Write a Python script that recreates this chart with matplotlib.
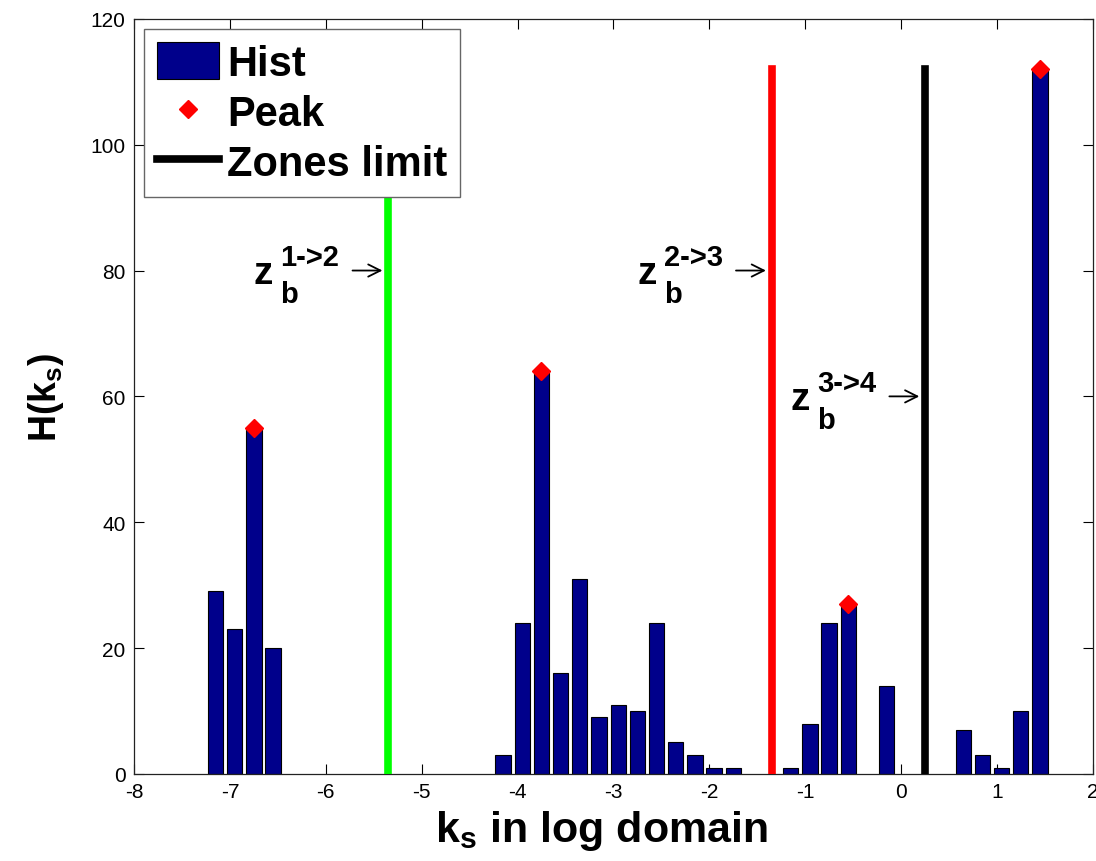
import numpy as np
import matplotlib
matplotlib.use("Agg")
import matplotlib.pyplot as plt
from matplotlib.lines import Line2D
from matplotlib.patches import Patch

plt.rcParams['font.family'] = ['Liberation Sans', 'DejaVu Sans']
plt.rcParams['mathtext.fontset'] = 'custom'
plt.rcParams['mathtext.rm'] = 'Liberation Sans:bold'
plt.rcParams['mathtext.it'] = 'Liberation Sans:bold'
plt.rcParams['mathtext.bf'] = 'Liberation Sans:bold'
plt.rcParams['axes.unicode_minus'] = False

# Histogram data (bin centres in log domain, counts)
bin_centers = [-7.15, -6.95, -6.75, -6.55,
               -4.15, -3.95, -3.75, -3.55, -3.35, -3.15, -2.95, -2.75,
               -2.55, -2.35, -2.15, -1.95, -1.75,
               -1.15, -0.95, -0.75, -0.55, -0.15,
               0.65, 0.85, 1.05, 1.25, 1.45]
counts = [29, 23, 55, 20,
          3, 24, 64, 16, 31, 9, 11, 10,
          24, 5, 3, 1, 1,
          1, 8, 24, 27, 14,
          7, 3, 1, 10, 112]
bin_width = 0.2

# Peaks
peak_x = [-6.75, -3.75, -0.55, 1.45]
peak_y = [55, 64, 27, 112]

# Zone limits
zone_x = [-5.35, -1.35, 0.25]
zone_colors = ['#00ff00', '#ff0000', '#000000']
zone_top = 112
zone_names = ['1->2', '2->3', '3->4']
zone_arrow_y = [80, 80, 60]

fig = plt.figure(figsize=(10.96, 8.62), dpi=100)
ax = fig.add_axes([0.1223, 0.101, 0.8747, 0.876])

ax.bar(bin_centers, counts, width=bin_width * 0.8, color='#00008b',
       edgecolor='black', linewidth=0.8, zorder=2)

for zx, zc in zip(zone_x, zone_colors):
    ax.plot([zx, zx], [0, zone_top], color=zc, linewidth=5.5, zorder=3)

ax.plot(peak_x, peak_y, 'D', color='red', markersize=9, zorder=4)

# zone labels with arrows
for zx, name, ay in zip(zone_x, zone_names, zone_arrow_y):
    ax.annotate('', xy=(zx - 0.03, ay), xytext=(zx - 0.4, ay),
                arrowprops=dict(arrowstyle='->', color='black', lw=1.3,
                                mutation_scale=22), zorder=5)
    tx = zx - 1.4
    ax.annotate('z', xy=(tx, ay), xytext=(0, -9), textcoords='offset points',
                fontsize=28, fontweight='bold', ha='left', va='baseline')
    ax.annotate(name, xy=(tx, ay), xytext=(19, 4), textcoords='offset points',
                fontsize=21, fontweight='bold', ha='left', va='baseline')
    ax.annotate('b', xy=(tx, ay), xytext=(19, -23), textcoords='offset points',
                fontsize=21, fontweight='bold', ha='left', va='baseline')

ax.set_xlim(-8, 2)
ax.set_ylim(0, 120)
ax.set_xticks(np.arange(-8, 3, 1))
ax.set_yticks(np.arange(0, 121, 20))
ax.tick_params(direction='in', top=True, right=True, length=7, width=0.8,
               labelsize=15, pad=6)
for s in ax.spines.values():
    s.set_linewidth(0.9)
    s.set_color('#222222')

ax.set_xlabel(r'k$_\mathregular{s}$ in log domain', fontsize=31,
              fontweight='bold', labelpad=5)
ax.xaxis.label.set_x(0.488)
ax.set_ylabel(r'H(k$_\mathregular{s}$)', fontsize=27, fontweight='bold',
              labelpad=18)

handles = [Patch(facecolor='#00008b', edgecolor='black', linewidth=0.8),
           Line2D([], [], marker='D', color='red', linestyle='None', markersize=9),
           Line2D([], [], color='black', linewidth=5.5)]
leg = ax.legend(handles, ['Hist', 'Peak', 'Zones limit'], loc='upper left',
                bbox_to_anchor=(0.0104, 0.986), borderaxespad=0,
                fancybox=False, framealpha=1, edgecolor='#666666',
                prop={'size': 30, 'weight': 'bold'}, handlelength=1.5,
                handleheight=1.0, handletextpad=0.2, labelspacing=0.2,
                borderpad=0.3)
leg.get_frame().set_linewidth(1.0)

fig.savefig('out.png', dpi=100)
